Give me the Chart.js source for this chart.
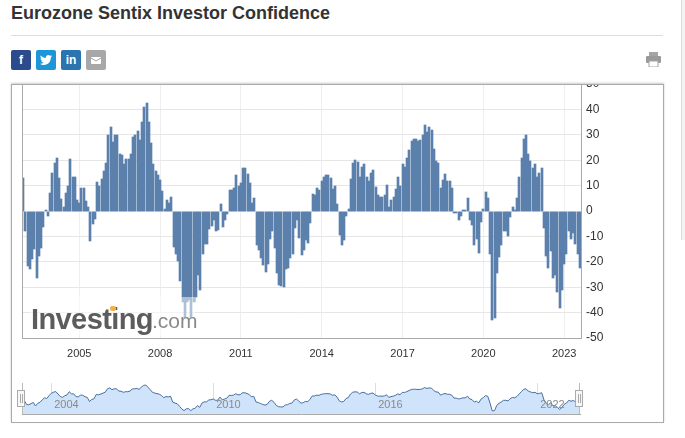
<!DOCTYPE html>
<html lang="en">
  <head>
    <meta charset="UTF-8" />
    <title>Eurozone Sentix Investor Confidence</title>
    <script src="https://cdn.jsdelivr.net/npm/chart.js"></script>
    <style>
      html, body { margin: 0; padding: 0; background: #fff; overflow: hidden; }
      body { width: 685px; height: 438px; position: relative; font-family: "Liberation Sans", Arial, sans-serif; color: #333; }
      .abs { position: absolute; }
      #title { left: 11px; top: 3px; font-size: 18px; font-weight: bold; line-height: 20px; color: #333; white-space: nowrap; }
      #rule { left: 11px; top: 35px; width: 652px; height: 1px; background: #ddd; }
      .btn { top: 50px; width: 20px; height: 20px; border-radius: 2px; color: #fff; font-weight: bold; font-size: 12px; line-height: 20px; text-align: center; }
      #frame { left: 11px; top: 84px; width: 651px; height: 337px; border: 1px solid #aaa; box-shadow: 0 -1px 2px #ccc; }
      #clip { left: 0; top: 85px; width: 685px; height: 290px; overflow: hidden; }
      #chart { position: absolute; left: 0; top: -11px; }
      #navChart { left: 0; top: 375px; }
      #axisLeft { left: 22px; top: 85px; width: 1px; height: 253px; background: #aaa; }
      #logo { left: 30px; top: 297px; width: 165px; height: 38px; background: rgba(255,255,255,.5); }
      #logo b { position: absolute; left: 1px; top: 3px; font-size: 29px; line-height: 38px; color: #5c5c5c; letter-spacing: -0.6px; }
      #logo i { position: absolute; left: 122px; top: 11px; font-style: normal; font-size: 21px; line-height: 26px; color: #8a8a8a; }
      #dot { left: 110px; top: 306px; width: 6px; height: 5px; background: #f3b24a; border-radius: 2px; }
      .handle { top: 390px; width: 6px; height: 15px; background: #f7f7f7; border: 1px solid #aaa; }
      .handle::after { content: ""; position: absolute; left: 1.500px; top: 3px; width: 1px; height: 9px; border-left: 1px solid #aaa; border-right: 1px solid #aaa; }
      .handleLine { top: 383px; width: 1px; height: 31px; background: #bbb; }
      #edge { left: 681px; top: 0; width: 4px; height: 240px; background: #f2f2f2; border-left: 1px solid #ddd; }
    </style>
  </head>
  <body>
    <div class="abs" id="title">Eurozone Sentix Investor Confidence</div>
    <div class="abs" id="rule"></div>
    <div class="abs btn" style="left:11px;background:#2b4b8c">f</div>
    <div class="abs btn" style="left:36px;background:#1d96d9">
      <svg width="12" height="10" viewBox="0 0 24 20" style="margin-top:5px;display:block;margin-left:4px"><path fill="#fff" d="M24 2.4c-.9.4-1.8.7-2.8.8 1-.6 1.8-1.6 2.2-2.7-1 .6-2 1-3.100 1.200C19.300.7 18 0 16.600 0c-2.700 0-4.900 2.200-4.900 4.900 0 .4 0 .8.100 1.100C7.700 5.800 4.100 3.900 1.700.9 1.200 1.600 1 2.500 1 3.400c0 1.700.9 3.200 2.200 4.100-.8 0-1.600-.2-2.200-.6v.1c0 2.400 1.700 4.400 3.900 4.800-.4.100-.8.200-1.300.2-.3 0-.6 0-.9-.1.600 2 2.400 3.400 4.600 3.400-1.700 1.300-3.800 2.100-6.100 2.100-.4 0-.8 0-1.200-.1C2.200 19.200 4.800 20 7.500 20c9.100 0 14-7.500 14-14v-.6c1-.7 1.800-1.600 2.500-3z"/></svg>
    </div>
    <div class="abs btn" style="left:61px;background:#2a74b0">in</div>
    <div class="abs btn" style="left:86px;background:#a8a8a8">
      <svg width="10" height="7" viewBox="0 0 10 7" style="margin-top:7px;display:block;margin-left:5px"><rect width="10" height="7" rx="1" fill="#fff"/><path d="M0 1l5 3 5-3" fill="none" stroke="#a8a8a8"/></svg>
    </div>
    <svg class="abs" style="left:646px;top:52px" width="15" height="15" viewBox="0 0 15 15">
      <rect x="3" y="0" width="9" height="4" fill="#a5a5a5"/>
      <rect x="0" y="4" width="15" height="7" rx="1" fill="#9a9a9a"/>
      <rect x="3" y="9" width="9" height="6" fill="#fff" stroke="#a5a5a5"/>
    </svg>
    <div class="abs" id="edge"></div>
    <div class="abs" id="frame"></div>
    <div class="abs" id="clip"><canvas id="chart" width="685" height="290"></canvas></div>
    <div class="abs" id="axisLeft"></div>
    <div class="abs" id="logo"><b>Investing</b><i>.com</i></div>
    <div class="abs" id="dot"></div>
    <canvas class="abs" id="navChart" width="685" height="42"></canvas>
    <div class="abs handleLine" style="left:22px"></div>
    <div class="abs handleLine" style="left:579px"></div>
    <div class="abs handle" style="left:17px"></div>
    <div class="abs handle" style="left:575px"></div>
    <script>
      // monthly readings, Dec 2002 onwards
      var values = [
        13, -8, -21.5, -22.8, -19, -15, -26.5, -17.8, -14.5, -6.3, 0.3, -2,
        7, 15, 18.8, 20.8, 12.8, 4.6, 1.6, 7.2, 9.7, 20.4, 13.3, 13.3,
        4.2, 3.3, 9, 9, 3.8, 1.7, -12, -5, -3, 11.6, 10, 12.5,
        15.7, 18.8, 30, 33, 27, 30, 30, 22.4, 22, 18.4, 20.4, 20.4,
        22.4, 29.3, 30, 31.4, 28, 35, 41, 42.5, 35, 26.7, 18.4, 15.8,
        14, 12.2, 8, 0.7, 4.2, 3.3, 5.4, -14, -17, -19.5, -27.6, -36,
        -42, -36, -35, -42, -36, -34, -25, -31, -17, -13, -13, -7,
        -6, -3.7, -8, -7.6, 2.6, -6.3, -3.7, -1.3, 8.2, 8.2, 9, 14,
        9.7, 11, 16.8, 17, 14.5, 11, 3.3, 5.2, -13.4, -15.4, -18.4, -21.4,
        -24, -21, -11, -8, -14.5, -24.6, -29, -29.6, -30, -23, -22.4, -18.4,
        -16.8, -6.8, -3.7, -10.5, -17.4, -15.4, -11.6, -12.5, -4.6, 6.6, 6.2, 9.2,
        8.2, 11.8, 13.2, 14, 14, 12.9, 8.6, 10, 2.6, -9.5, -13.4, -11.6,
        -2, 0.9, 12.5, 18.8, 20, 19.3, 13.5, 17.5, 18.5, 13.5, 11.7, 15,
        16, 9.6, 6.2, 5.7, 5.7, 6.2, 10.3, 1.7, 4.2, 5.7, 8.6, 13.2,
        10, 18.4, 17.5, 20.7, 24, 27.6, 28.5, 28.5, 27.6, 28, 30, 34,
        31, 33, 32, 24.3, 19.5, 19, 9.2, 12.2, 14.7, 12, 11.8, 9,
        -0.6, -0.6, -3.5, -2, 0.2, 0.2, 5.2, -3.5, -5.5, -13.4, -11, -16.4,
        -4.2, 0.7, 7.6, 5.2, -17, -42.8, -42, -24.6, -18, -13.4, -8, -8,
        -10, -2.4, 1.5, 0.3, 5, 13.2, 21, 28.3, 30, 22.4, 19.5, 17,
        18.4, 13.5, 15, 16.8, -6.8, -17.8, -22.4, -15.8, -26.3, -25.3, -31.8, -38,
        -31, -21, -17, -8, -11, -8.5, -13, -16.8, -22.4
      ]
      var xTickYears = ["2005", "2008", "2011", "2014", "2017", "2020", "2023"]
      var navTickYears = ["2004", "2010", "2016", "2022"]
      var yTicks = [50, 40, 30, 20, 10, 0, -10, -20, -30, -40, -50]

      // month labels for the category axis
      var months = values.map(function (v, i) {
        var m = 11 + i
        return 2002 + Math.floor(m / 12) + "-" + String((m % 12) + 1).padStart(2, "0")
      })

      function ticksFor(years) {
        return function (axis) {
          axis.ticks = years.map(function (y) {
            return { value: months.indexOf(y + "-01") }
          })
        }
      }
      function yearLabel(value) {
        return this.getLabelForValue(value).slice(0, 4)
      }

      // whole-pixel bars, the 2px bars then leave a 1px gap now and again
      var snapBars = {
        id: "snapBars",
        beforeDatasetsDraw: function (chart) {
          chart.getDatasetMeta(0).data.forEach(function (bar) {
            bar.x = Math.round(bar.x - 1) + 1
            var top = Math.round(bar.y)
            var base = Math.round(bar.base)
            bar.y = top
            bar.base = base
            bar.height = base - top
          })
        },
      }

      var font = { family: "'Liberation Sans', Arial, sans-serif", size: 11 }

      // navigator years sit inside the area, axis labels can't go there
      var navLabels = {
        id: "navLabels",
        afterDraw: function (chart) {
          var ctx = chart.ctx
          ctx.save()
          ctx.font = "11px " + font.family
          ctx.fillStyle = "#8a8a8a"
          ctx.textBaseline = "middle"
          navTickYears.forEach(function (y) {
            var x = chart.scales.x.getPixelForValue(months.indexOf(y + "-01"))
            ctx.fillText(y, x + 3, 30)
          })
          ctx.restore()
        },
      }

      new Chart(document.getElementById("chart").getContext("2d"), {
        type: "bar",
        data: {
          labels: months,
          datasets: [{ data: values, backgroundColor: "#5b80ac", barThickness: 2 }],
        },
        options: {
          responsive: false,
          animation: false,
          devicePixelRatio: 1,
          layout: { padding: { left: 22, top: 10, right: 0, bottom: 0 } },
          plugins: { legend: { display: false }, tooltip: { enabled: false } },
          scales: {
            x: {
              afterBuildTicks: ticksFor(xTickYears),
              afterFit: function (axis) {
                axis.paddingLeft = 0
                axis.paddingRight = 0
                axis.height = 26
              },
              grid: { color: "#eeeeee", offset: false, drawTicks: false },
              border: { color: "#aaaaaa" },
              ticks: {
                autoSkip: false,
                maxRotation: 0,
                padding: 9,
                color: "#333",
                font: font,
                callback: yearLabel,
              },
            },
            y: {
              position: "right",
              min: -50,
              max: 50,
              afterBuildTicks: function (axis) {
                axis.ticks = yTicks.map(function (v) {
                  return { value: v }
                })
              },
              afterFit: function (axis) {
                axis.width = 104
                axis.paddingTop = 0
                axis.paddingBottom = 0
              },
              grid: { color: "#e6e6e6", drawTicks: false },
              border: { color: "#aaaaaa" },
              ticks: { padding: 5, color: "#333", font: { family: font.family, size: 12 } },
            },
          },
        },
        plugins: [snapBars],
      })

      new Chart(document.getElementById("navChart").getContext("2d"), {
        type: "line",
        data: {
          labels: months,
          datasets: [
            {
              data: values,
              borderColor: "#4a6f9e",
              borderWidth: 1,
              backgroundColor: "#cfe3fb",
              fill: "start",
              pointRadius: 0,
              tension: 0,
            },
          ],
        },
        options: {
          responsive: false,
          animation: false,
          devicePixelRatio: 1,
          layout: { padding: { left: 22, right: 105, top: 8, bottom: 3 } },
          plugins: { legend: { display: false }, tooltip: { enabled: false } },
          scales: {
            x: {
              afterBuildTicks: ticksFor(navTickYears),
              afterFit: function (axis) {
                axis.height = 0
                axis.paddingLeft = 0
                axis.paddingRight = 0
              },
              grid: { color: "#dddddd", drawTicks: false },
              border: { color: "#aaaaaa" },
              ticks: { display: false },
            },
            y: { display: false, min: -53, max: 49 },
          },
        },
        plugins: [navLabels],
      })
    </script>
  </body>
</html>
